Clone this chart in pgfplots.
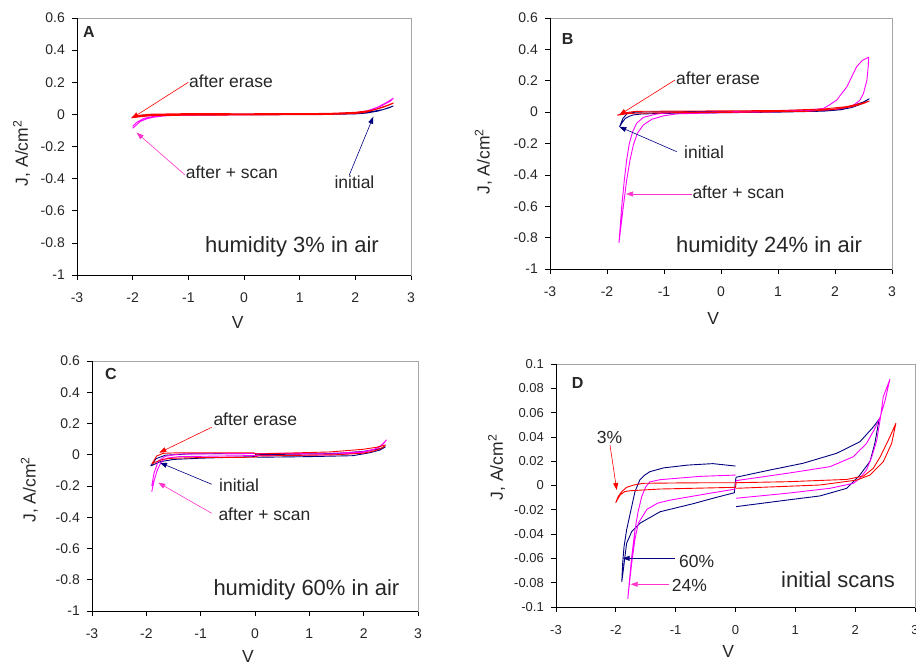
\documentclass[border=0pt]{standalone}
\usepackage{fontspec}
\setmainfont{Liberation Sans}
\usepackage{pgfplots}
\pgfplotsset{compat=1.18}
\usetikzlibrary{arrows.meta}
\definecolor{navy}{HTML}{000080}
\definecolor{mag}{HTML}{FF00FF}
\definecolor{myred}{HTML}{FF0000}
\definecolor{pinkarrow}{HTML}{FF33CC}
\definecolor{boxgray}{HTML}{A6A6A6}
\definecolor{txt}{HTML}{262626}
\newcommand\annfont{\fontsize{17.5}{20}\selectfont}
\newcommand\bigfont{\fontsize{22}{26}\selectfont}
\newcommand\labfont{\fontsize{17.5}{20}\selectfont}
\pgfplotsset{
 panel/.style={
  scale only axis, anchor=south west, clip=false,
  xmin=-3, xmax=3, xtick={-3,-2,-1,0,1,2,3},
  axis line style={draw=boxgray, line width=0.8pt},
  tick align=outside, xtick pos=left, ytick pos=left,
  major tick length=5pt,
  tick style={black, line width=0.7pt},
  scaled ticks=false,
  tick label style={text=txt, inner sep=0pt, font=\fontsize{14}{16}\selectfont,
    /pgf/number format/assume math mode=true, /pgf/number format/fixed, /pgf/number format/precision=2},
  xticklabel style={anchor=north, yshift=-13pt},
  yticklabel style={anchor=east, xshift=-7pt},
 },
 big/.style={ymin=-1, ymax=0.6, ytick={-1,-0.8,-0.6,-0.4,-0.2,0,0.2,0.4,0.6}},
 cv/.style={no markers, line width=0.9pt, line join=round},
}
\tikzset{
 ann/.style={-{Triangle[length=7pt,width=5pt]}, line width=0.6pt},
 lbl/.style={anchor=base west, inner sep=0pt, text=txt},
}
\begin{document}
\begin{tikzpicture}
\useasboundingbox (0,0) rectangle (916pt,662pt);
% ---------------- Panel A
\begin{axis}[panel, big, at={(77pt,387pt)}, width=334pt, height=257pt]
\addplot[cv, navy] coordinates {(-2.0,-0.012) (-1.8,-0.004) (-1.5,-0.002) (0,0) (1.5,0.003) (2.0,0.008) (2.3,0.018) (2.5,0.03) (2.68,0.052) (2.6,0.04) (2.4,0.02) (2.2,0.008) (2.0,0.003) (1.5,0.0) (0,-0.002) (-1.5,-0.004) (-2.0,-0.012)};
\addplot[cv, mag] coordinates {(-2.0,-0.087) (-1.93,-0.065) (-1.87,-0.045) (-1.75,-0.028) (-1.63,-0.018) (-1.45,-0.01) (-1.2,-0.005) (0,-0.002) (1.5,0.002) (2.0,0.01) (2.2,0.02) (2.4,0.045) (2.55,0.072) (2.68,0.10) (2.62,0.08) (2.45,0.05) (2.3,0.03) (2.1,0.012) (1.8,0.004) (0,0.0) (-1.2,-0.002) (-1.6,-0.01) (-1.8,-0.025) (-1.93,-0.05) (-2.0,-0.075)};
\addplot[cv, myred, line width=1.2pt] coordinates {(-2.02,-0.02) (-1.9,-0.008) (-1.7,0.0) (-1.0,0.004) (0,0.003) (1.5,0.005) (2.0,0.012) (2.3,0.025) (2.5,0.045) (2.68,0.07) (2.6,0.058) (2.4,0.035) (2.2,0.015) (2.0,0.006) (1.5,0.0) (0,-0.003) (-1.0,-0.004) (-1.7,-0.008) (-2.02,-0.02)};
\draw[black, line width=0.8pt] (rel axis cs:0,1) -- (rel axis cs:0,0) -- (rel axis cs:1,0);
\end{axis}
% ---------------- Panel B
\begin{axis}[panel, big, at={(550pt,393pt)}, width=342pt, height=251pt]
\addplot[cv, navy] coordinates {(-1.78,-0.093) (-1.74,-0.07) (-1.68,-0.04) (-1.6,-0.025) (-1.54,-0.018) (-1.4,-0.012) (-1.0,-0.008) (0,-0.004) (1.0,0.0) (1.8,0.006) (2.1,0.015) (2.3,0.03) (2.45,0.05) (2.6,0.085) (2.5,0.065) (2.3,0.04) (2.1,0.022) (1.8,0.012) (1.0,0.006) (0,0.004) (-1.0,0.002) (-1.5,0.0) (-1.65,-0.01) (-1.72,-0.04) (-1.78,-0.093)};
\addplot[cv, mag] coordinates {(-0.895,-0.003) (0,0.002) (1.0,0.008) (1.6,0.015) (1.8,0.024) (1.9,0.045) (2.03,0.077) (2.12,0.12) (2.21,0.162) (2.3,0.23) (2.38,0.29) (2.48,0.33) (2.59,0.35) (2.585,0.3) (2.56,0.204) (2.5,0.12) (2.44,0.077) (2.35,0.05) (2.26,0.034) (2.03,0.018) (1.5,0.006) (0,-0.004) (-0.777,-0.011) (-1.012,-0.024) (-1.216,-0.046) (-1.363,-0.082) (-1.468,-0.135) (-1.538,-0.21) (-1.596,-0.305) (-1.655,-0.433) (-1.714,-0.603) (-1.79,-0.832) (-1.742,-0.603) (-1.696,-0.433) (-1.655,-0.305) (-1.608,-0.199) (-1.55,-0.125) (-1.48,-0.071) (-1.36,-0.033) (-1.13,-0.012) (-0.895,-0.003)};
\addplot[cv, myred] coordinates {(-1.82,-0.02) (-1.7,-0.005) (-1.5,0.005) (0,0.008) (1.0,0.01) (1.8,0.02) (2.2,0.035) (2.45,0.055) (2.6,0.07) (2.5,0.055) (2.3,0.035) (2.0,0.018) (1.5,0.005) (0,-0.002) (-1.0,-0.004) (-1.6,-0.008) (-1.82,-0.02)};
\draw[black, line width=0.8pt] (rel axis cs:0,1) -- (rel axis cs:0,0) -- (rel axis cs:1,0);
\end{axis}
% ---------------- Panel C
\begin{axis}[panel, big, at={(92pt,51pt)}, width=326pt, height=250pt]
\addplot[cv, navy] coordinates {(-1.92,-0.072) (-1.82,-0.025) (-1.65,-0.003) (-1.2,0.006) (0,0.008) (0.02,0.0) (1.5,0.008) (2.0,0.022) (2.25,0.035) (2.40,0.05) (2.3,0.03) (2.1,0.012) (1.8,-0.006) (1.0,-0.012) (0.05,-0.016) (0,-0.012) (-1.0,-0.022) (-1.5,-0.03) (-1.75,-0.045) (-1.92,-0.072)};
\addplot[cv, mag] coordinates {(-1.90,-0.236) (-1.86,-0.17) (-1.8,-0.1) (-1.74,-0.055) (-1.69,-0.033) (-1.6,-0.02) (-1.4,-0.012) (0,-0.005) (1.5,0.0) (2.0,0.015) (2.2,0.035) (2.32,0.06) (2.42,0.095) (2.35,0.065) (2.25,0.04) (2.0,0.02) (1.5,0.01) (0,0.008) (-1.4,0.005) (-1.65,-0.01) (-1.78,-0.04) (-1.86,-0.12) (-1.90,-0.2)};
\addplot[cv, myred] coordinates {(-1.90,-0.06) (-1.81,-0.008) (-1.69,0.009) (-1.38,0.013) (-0.03,0.013) (0.03,0.005) (1.38,0.018) (1.99,0.035) (2.24,0.048) (2.40,0.062) (2.35,0.045) (2.2,0.025) (2.0,0.01) (1.5,0.0) (0.05,-0.008) (-0.02,-0.016) (-1.0,-0.018) (-1.5,-0.022) (-1.69,-0.029) (-1.81,-0.044) (-1.90,-0.06)};
\draw[black, line width=0.8pt] (rel axis cs:0,1) -- (rel axis cs:0,0) -- (rel axis cs:1,0);
\end{axis}
% ---------------- Panel D
\begin{axis}[panel, at={(556pt,55pt)}, width=359pt, height=243pt,
  ymin=-0.1, ymax=0.1, ytick={-0.1,-0.08,-0.06,-0.04,-0.02,0,0.02,0.04,0.06,0.08,0.1},
  tick label style={font=\fontsize{13}{15}\selectfont}]
\addplot[cv, navy] coordinates {(0,0.016) (-0.38,0.018) (-0.8,0.0168) (-1.2,0.0145) (-1.43,0.0114) (-1.52,0.0085) (-1.6,0.0045) (-1.68,-0.005) (-1.76,-0.023) (-1.82,-0.0366) (-1.863,-0.0504) (-1.886,-0.064) (-1.90,-0.079) (-1.875,-0.0695) (-1.82,-0.0476) (-1.735,-0.038) (-1.596,-0.031) (-1.26,-0.0216) (-0.71,-0.015) (-0.3,-0.0095) (-0.02,-0.006) (0.0,0.004) (0.01,0.0068) (0.58,0.0128) (1.13,0.0183) (1.69,0.0265) (2.08,0.036) (2.30,0.048) (2.40,0.0545) (2.33,0.035) (2.25,0.02) (2.08,0.0087) (1.86,-0.0023) (1.41,-0.0086) (0.86,-0.012) (0.01,-0.0174)};
\addplot[cv, mag] coordinates {(0,0.0086) (-0.6,0.0075) (-1.26,0.0048) (-1.43,0.003) (-1.5,-0.001) (-1.568,-0.0092) (-1.63,-0.022) (-1.68,-0.0366) (-1.735,-0.0586) (-1.77,-0.077) (-1.80,-0.093) (-1.76,-0.075) (-1.735,-0.064) (-1.68,-0.044) (-1.624,-0.031) (-1.48,-0.0196) (-1.3,-0.0145) (-1.09,-0.012) (-0.43,-0.0064) (-0.01,-0.003) (0.01,0.004) (0.86,0.010) (1.58,0.0155) (1.97,0.0237) (2.19,0.0347) (2.32,0.046) (2.42,0.0566) (2.5,0.07) (2.58,0.0874) (2.47,0.073) (2.42,0.055) (2.36,0.037) (2.28,0.024) (2.19,0.0128) (2.08,0.006) (1.97,0.0018) (1.58,-0.0023) (0.86,-0.0064) (0.01,-0.0105)};
\addplot[cv, myred] coordinates {(0,0.0023) (-0.8,0.0022) (-1.54,0.0018) (-1.7,0.0004) (-1.82,-0.0015) (-1.9,-0.005) (-1.96,-0.009) (-2.0,-0.014) (-1.93,-0.0078) (-1.85,-0.005) (-1.76,-0.0043) (-1.26,-0.0029) (0,-0.0015) (0.01,0.0023) (0.86,0.0031) (1.86,0.005) (2.14,0.0078) (2.3,0.014) (2.42,0.0237) (2.58,0.040) (2.68,0.0512) (2.61,0.0347) (2.47,0.0196) (2.25,0.0087) (2.03,0.0045) (1.41,0.0004) (0.01,-0.0023)};
\draw[black, line width=0.8pt] (rel axis cs:0,1) -- (rel axis cs:0,0) -- (rel axis cs:1,0);
\end{axis}
% ---------------- Axis labels
\node[text=txt, font=\labfont] at (237.7pt,339.5pt) {V};
\node[text=txt, font=\labfont, rotate=90] at (21.7pt,508.7pt) {J, A/cm\textsuperscript{2}};
\node[text=txt, font=\labfont] at (713.3pt,343.7pt) {V};
\node[text=txt, font=\labfont, rotate=90] at (483.3pt,500.3pt) {J, A/cm\textsuperscript{2}};
\node[text=txt, font=\labfont] at (248pt,6pt) {V};
\node[text=txt, font=\labfont, rotate=90] at (29.3pt,172.3pt) {J, A/cm\textsuperscript{2}};
\node[text=txt, font=\labfont] at (728.3pt,10.3pt) {V};
\node[text=txt, font=\labfont, rotate=90] at (496.7pt,194.5pt) {J, A/cm\textsuperscript{2}};
% ---------------- Panel A annotations
\node[lbl, font=\fontsize{16}{18}\selectfont\bfseries] at (83pt,624.7pt) {A};
\node[lbl, font=\annfont] at (189pt,574.7pt) {after erase};
\draw[ann, myred] (188.3pt,579.7pt) -- (131.7pt,543.7pt);
\node[lbl, font=\annfont] at (185.7pt,483pt) {after + scan};
\draw[ann, pinkarrow] (185pt,487pt) -- (136.7pt,529.3pt);
\node[lbl, font=\annfont] at (334.3pt,473pt) {initial};
\draw[ann, navy] (349.3pt,487pt) -- (373.3pt,545.3pt);
\node[lbl, font=\bigfont] at (205pt,409.7pt) {humidity 3\% in air};
% ---------------- Panel B annotations
\node[lbl, font=\fontsize{16}{18}\selectfont\bfseries] at (561.7pt,617pt) {B};
\node[lbl, font=\annfont] at (676pt,577pt) {after erase};
\draw[ann, myred] (675pt,582pt) -- (619.3pt,547pt);
\node[lbl, font=\annfont] at (684pt,503pt) {initial};
\draw[ann, navy] (676.7pt,510.3pt) -- (619.3pt,535.3pt);
\node[lbl, font=\annfont] at (692.3pt,463pt) {after + scan};
\draw[ann, pinkarrow] (691.7pt,468pt) -- (626pt,468pt);
\node[lbl, font=\bigfont] at (676pt,409.7pt) {humidity 24\% in air};
% ---------------- Panel C annotations
\node[lbl, font=\fontsize{16}{18}\selectfont\bfseries] at (105pt,282pt) {C};
\node[lbl, font=\annfont] at (213.3pt,236.3pt) {after erase};
\draw[ann, myred] (211.7pt,234.7pt) -- (159.3pt,209.3pt);
\node[lbl, font=\annfont] at (219pt,170.3pt) {initial};
\draw[ann, navy] (211.7pt,177.7pt) -- (160pt,199.3pt);
\node[lbl, font=\annfont] at (218.3pt,142pt) {after + scan};
\draw[ann, pinkarrow] (211.7pt,148.7pt) -- (158.3pt,179.3pt);
\node[lbl, font=\bigfont] at (213.3pt,67pt) {humidity 60\% in air};
% ---------------- Panel D annotations
\node[lbl, font=\fontsize{16}{18}\selectfont\bfseries] at (571.7pt,273.7pt) {D};
\node[lbl, font=\annfont] at (596.7pt,218.7pt) {3\%};
\draw[ann, myred] (610pt,217pt) -- (616.7pt,172pt);
\node[lbl, font=\annfont] at (679pt,94.3pt) {60\%};
\draw[ann, navy] (675pt,103.7pt) -- (622.7pt,103.7pt);
\node[lbl, font=\annfont] at (671.7pt,71pt) {24\%};
\draw[ann, pinkarrow] (669.3pt,77.7pt) -- (630.7pt,77.7pt);
\node[lbl, font=\bigfont] at (781pt,74.7pt) {initial scans};
\end{tikzpicture}
\end{document}
